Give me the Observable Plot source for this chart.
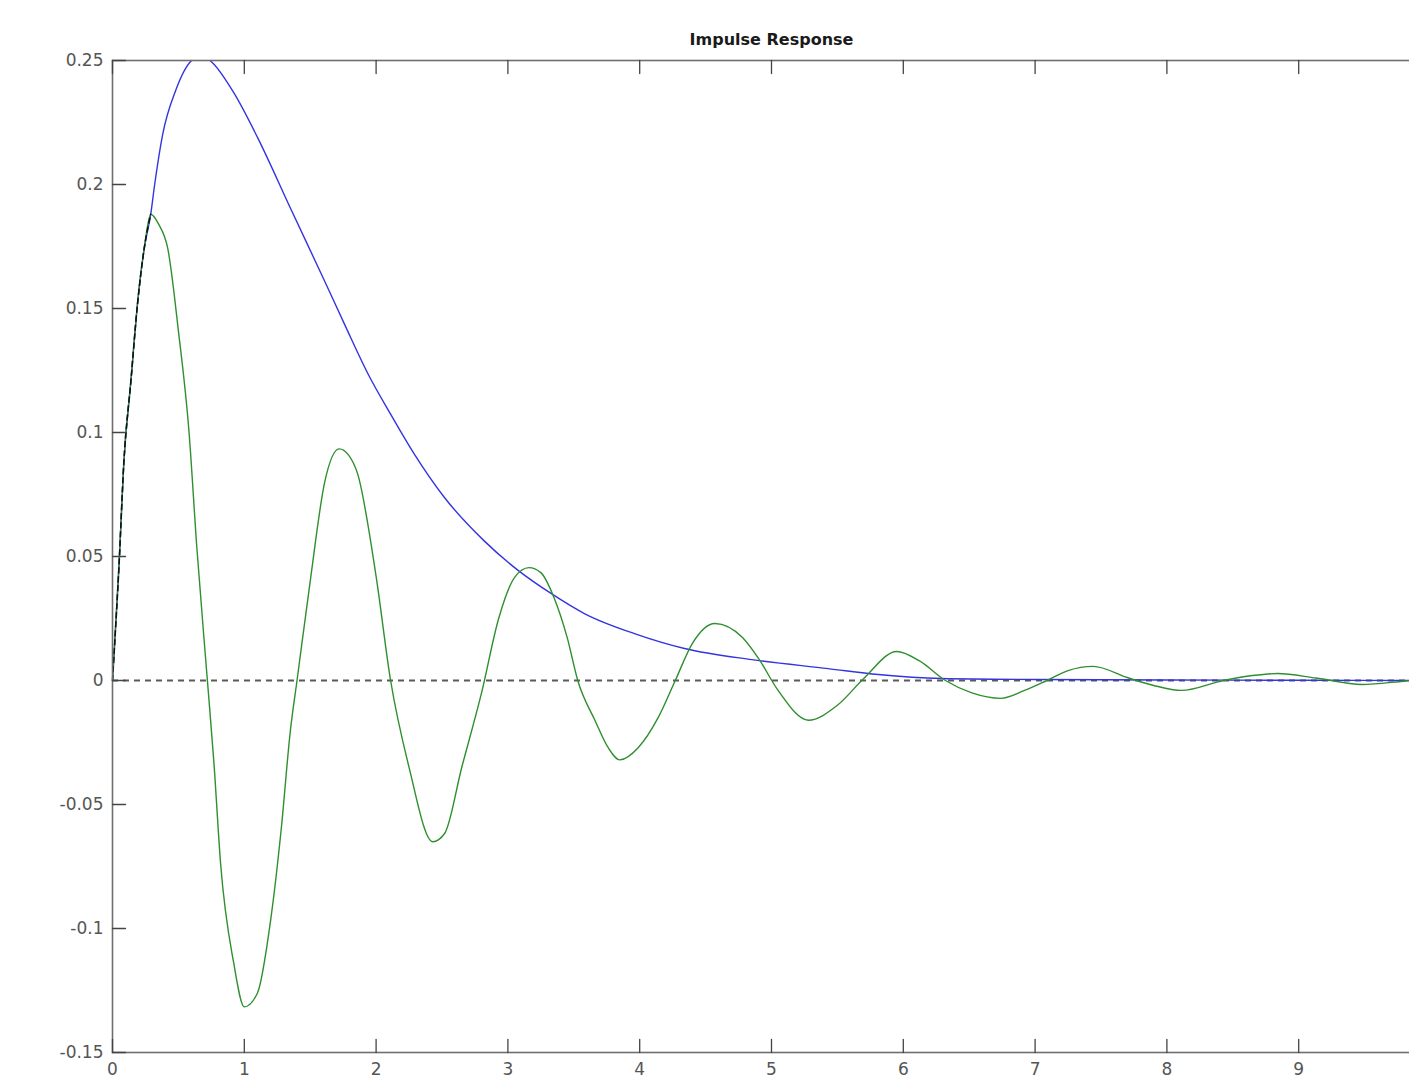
<!DOCTYPE html>
<html>
<head>
<meta charset="utf-8">
<script src="https://cdn.jsdelivr.net/npm/d3@7"></script>
<script src="https://cdn.jsdelivr.net/npm/@observablehq/plot@0.6"></script>
<style>
  html, body { margin: 0; padding: 0; background: #fff; overflow: hidden; }
  #chart { width: 1409px; height: 1082px; overflow: hidden; }
  #chart svg { max-width: none !important; }
</style>
</head>
<body>
<div id="chart"></div>
<script>
// ---- data ----
const title = "Impulse Response";

const blueT = [0, 0.01, 0.05, 0.085, 0.14, 0.19, 0.24, 0.29, 0.32, 0.38, 0.48, 0.6, 0.68, 0.76, 0.92, 1.10, 1.354, 1.61, 1.76, 1.94, 2.11, 2.29, 2.52, 2.82, 3.08, 3.33, 3.58, 3.96, 4.34, 4.85, 5.43, 5.81, 6.29, 7.0, 8.0, 9.0, 10.0];
const blueY = [0, 0.009, 0.047, 0.087, 0.121, 0.152, 0.174, 0.188, 0.200, 0.220, 0.238, 0.250, 0.252, 0.249, 0.237, 0.219, 0.190, 0.161, 0.1437, 0.1235, 0.1074, 0.0913, 0.0737, 0.0563, 0.0443, 0.035, 0.027, 0.0189, 0.0129, 0.0084, 0.0048, 0.0024, 0.0008, 0.0004, 0.0002, 0.0001, 0];

const greenT = [0, 0.01, 0.05, 0.085, 0.14, 0.19, 0.24, 0.29, 0.35, 0.42, 0.50, 0.58, 0.64, 0.72, 0.77, 0.82, 0.92, 1.0, 1.10, 1.20, 1.28, 1.35, 1.40, 1.50, 1.61, 1.72, 1.79, 1.86, 2.0, 2.11, 2.25, 2.43, 2.52, 2.65, 2.80, 2.93, 3.05, 3.16, 3.25, 3.35, 3.45, 3.53, 3.66, 3.76, 3.85, 3.99, 4.14, 4.27, 4.40, 4.57, 4.78, 4.90, 5.05, 5.28, 5.50, 5.70, 5.95, 6.12, 6.32, 6.52, 6.74, 6.92, 7.09, 7.25, 7.44, 7.70, 7.90, 8.11, 8.43, 8.65, 8.84, 9.13, 9.48, 9.86, 10];
const greenY = [0, 0.009, 0.047, 0.087, 0.121, 0.152, 0.174, 0.188, 0.184, 0.174, 0.141, 0.1006, 0.0535, 0, -0.0335, -0.0737, -0.114, -0.1316, -0.126, -0.0966, -0.060, -0.020, 0, 0.04, 0.080, 0.0934, 0.091, 0.0833, 0.042, 0, -0.035, -0.065, -0.0617, -0.035, -0.005, 0.025, 0.0415, 0.0455, 0.0435, 0.0334, 0.0173, 0, -0.016, -0.027, -0.032, -0.027, -0.015, 0, 0.015, 0.023, 0.0173, 0.009, -0.004, -0.016, -0.01, 0.0008, 0.0117, 0.008, 0, -0.005, -0.0072, -0.004, 0, 0.004, 0.0057, 0.0012, -0.002, -0.004, 0, 0.002, 0.0028, 0.001, -0.0016, 0, 0.0003];

// black dashed overlay on the initial rise
const dashT = [0, 0.01, 0.05, 0.085, 0.14, 0.19, 0.24, 0.29];
const dashY = [0, 0.009, 0.047, 0.087, 0.121, 0.152, 0.174, 0.188];

const xTicks = [0, 1, 2, 3, 4, 5, 6, 7, 8, 9, 10];
const xTickLabels = [0, 1, 2, 3, 4, 5, 6, 7, 8, 9]; // "10" falls outside the visible picture
const yTicks = [-0.15, -0.1, -0.05, 0, 0.05, 0.1, 0.15, 0.2, 0.25];
const yTickLabels = ["-0.15", "-0.1", "-0.05", "0", "0.05", "0.1", "0.15", "0.2", "0.25"];

// ---- build tables ----
const blue = blueT.map((t, i) => ({t, v: blueY[i]}));
const green = greenT.map((t, i) => ({t, v: greenY[i]}));
const dash = dashT.map((t, i) => ({t, v: dashY[i]}));

const tickShape = { draw(ctx, l) { ctx.moveTo(0, 0); ctx.lineTo(0, -l); } };
const axisColor = "#6e6e6e";
const tickLen = 13;
const labelFont = "'DejaVu Sans', 'Liberation Sans', Arial, sans-serif";

const chart = Plot.plot({
  width: 1447,
  height: 1082,
  marginLeft: 112,
  marginRight: 17,
  marginTop: 60,
  marginBottom: 30,
  x: { domain: [0, 10], label: null },
  y: { domain: [-0.15, 0.25], label: null },
  style: { fontFamily: labelFont, fontSize: "17px", color: "#555", background: "#fff", maxWidth: "none" },
  marks: [
    Plot.ruleY([0], { stroke: "#5a5a5a", strokeWidth: 2, strokeDasharray: "6,5" }),
    Plot.line(blue, { x: "t", y: "v", stroke: "#3434e0", strokeWidth: 1.4, curve: "monotone-x", clip: true }),
    Plot.line(green, { x: "t", y: "v", stroke: "#2f8f2f", strokeWidth: 1.4, curve: "monotone-x", clip: true }),
    Plot.line(dash, { x: "t", y: "v", stroke: "#111", strokeWidth: 1.6, strokeDasharray: "5,4", curve: "monotone-x" }),
    Plot.frame({ stroke: axisColor, strokeWidth: 1.6 }),
    // inward ticks
    Plot.vector(xTicks, { x: d => d, frameAnchor: "bottom", length: tickLen, rotate: 0, anchor: "start", shape: tickShape, stroke: "#444", strokeWidth: 1.3 }),
    Plot.vector(xTicks, { x: d => d, frameAnchor: "top", length: tickLen, rotate: 180, anchor: "start", shape: tickShape, stroke: "#444", strokeWidth: 1.3 }),
    Plot.vector(yTicks, { y: d => d, frameAnchor: "left", length: tickLen, rotate: 90, anchor: "start", shape: tickShape, stroke: "#444", strokeWidth: 1.3 }),
    Plot.vector(yTicks, { y: d => d, frameAnchor: "right", length: tickLen, rotate: -90, anchor: "start", shape: tickShape, stroke: "#444", strokeWidth: 1.3 }),
    // labels
    Plot.axisX(xTickLabels, { anchor: "bottom", label: null, tickSize: 0, tickPadding: 10, tickFormat: d => String(d), fill: "#555", fontSize: 17, letterSpacing: "2px" }),
    Plot.axisY(yTicks, { anchor: "left", label: null, tickSize: 0, tickPadding: 9, tickFormat: d => yTickLabels[yTicks.indexOf(d)], fill: "#555", fontSize: 17, letterSpacing: "2px" }),
    Plot.text([title], { x: 5, frameAnchor: "top", dy: -27, text: d => d, fontSize: 16, fontWeight: "bold", fill: "#1a1a1a", letterSpacing: "1px" })
  ]
});

chart.style.maxWidth = "none";
document.getElementById("chart").appendChild(chart);
</script>
</body>
</html>
